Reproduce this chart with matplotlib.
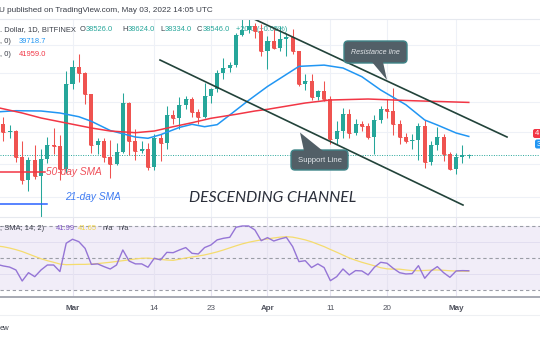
import matplotlib
matplotlib.use('Agg')
import matplotlib.pyplot as plt
from matplotlib.patches import FancyBboxPatch, Polygon
from matplotlib.transforms import IdentityTransform

W, H = 540, 340

# day index: 0 = 1 Mar 2022, last bar = 3 May 2022
days = list(range(-12, 64))
opens = [43900, 40550, 40000, 40100, 38400, 37000, 38250, 37250, 38300, 39200, 39100, 37700,
         43200, 44400, 44000, 42500, 39150, 39400, 38400, 38000, 38750, 41950, 39450, 38800,
         38900, 37800, 39650, 39300, 41100, 40900, 41800, 42200, 41300, 41000, 42400, 42900,
         44000, 44350, 44550, 46800, 47150, 47450, 47100, 45550, 46300, 45800, 46450, 46650,
         45550, 43200, 43450, 42300, 42750, 42200, 39550, 40100, 41150, 39950, 40550, 40400,
         39700, 40800, 41500, 41350, 40500, 39700, 39450, 39470, 40400, 38100, 39200, 39700,
         38600, 37700, 38450, 38526]
highs = [44150, 40950, 40450, 40150, 39450, 38400, 39200, 38900, 39700, 40250, 39800, 44150,
         44950, 45400, 44100, 42500, 39600, 39650, 39500, 39300, 42600, 42000, 40200, 39400,
         39300, 39900, 39850, 41700, 41450, 42300, 42400, 42300, 41500, 43300, 42950, 44200,
         45100, 44800, 46900, 48200, 48100, 47700, 47600, 46700, 47200, 47450, 46900, 47200,
         45550, 43900, 43950, 42800, 43400, 42400, 40700, 41550, 41500, 40850, 40700, 40600,
         41100, 41700, 42200, 42950, 40800, 39950, 39900, 40600, 40800, 39400, 40350, 39900,
         38750, 38650, 39150, 38624]
lows = [40100, 39450, 39650, 38100, 36800, 36350, 37100, 34350, 38050, 38600, 37050, 37450,
        42850, 43350, 41850, 38650, 38600, 38100, 37150, 37900, 38650, 38550, 38250, 38700,
        37600, 37600, 38150, 38950, 40550, 40200, 41500, 40950, 40550, 40900, 41950, 42650,
        43600, 44100, 44450, 46700, 46950, 46550, 45250, 44250, 45700, 45550, 45200, 45400,
        43100, 42800, 42150, 42150, 42050, 39250, 39250, 39600, 39600, 39800, 40050, 39550,
        38600, 40600, 40900, 39800, 39250, 39300, 38950, 38250, 37750, 37900, 38850, 38200,
        37600, 37400, 38050, 38334]
closes = [40550, 40000, 40100, 38400, 37000, 38250, 37250, 38300, 39200, 39100, 37700, 43200,
          44400, 44000, 42500, 39150, 39400, 38400, 38000, 38750, 41950, 39450, 38800, 38900,
          37800, 39650, 39300, 41100, 40900, 41800, 42200, 41300, 41000, 42400, 42900, 44000,
          44350, 44550, 46800, 47150, 47450, 47100, 45550, 46300, 45800, 46450, 46650, 45550,
          43200, 43450, 42300, 42750, 42200, 39550, 40100, 41150, 39950, 40550, 40400, 39700,
          40800, 41500, 41350, 40500, 39700, 39450, 39470, 40400, 38100, 39200, 39700, 38600,
          37700, 38450, 38526, 38546]

sma21_days = [-12, -9, -5, -2, 1, 3, 6, 10, 12, 14, 17, 19, 21, 23, 25, 28, 31, 36, 40, 43,
              46, 49, 53, 56, 58, 61, 63]
sma21_vals = [41320, 41401, 41381, 41248, 41002, 40700, 40100, 39680, 39600, 39830, 40300,
              40503, 40346, 40480, 41115, 42100, 43050, 44470, 44560, 44352, 43735, 42806,
              41800, 40784, 40457, 39938, 39718.7]
sma50_days = [-12, -8, -5, -1, 3, 6, 10, 13, 16, 19, 22, 26, 29, 31, 37, 41, 47, 54, 63]
sma50_vals = [41620, 41248, 40917, 40588, 40262, 40067, 39958, 40067, 40346, 40607, 40897,
              41161, 41381, 41494, 41918, 42122, 42189, 42074, 41959.0]

rsi = [46.0, 45.0, 44.3, 42.5, 35.6, 40.8, 38.3, 42.5, 45.6, 45.6, 41.5, 59.2,
       61.7, 60.2, 56.0, 46.0, 46.3, 44.6, 43.1, 45.6, 55.0, 48.1, 46.3, 46.3,
       44.2, 49.8, 48.8, 53.5, 53.3, 55.0, 56.5, 52.9, 52.5, 56.5, 58.1, 61.3,
       62.3, 62.9, 69.2, 70.0, 70.0, 67.5, 60.8, 62.7, 60.6, 61.9, 62.9, 57.1,
       47.7, 48.3, 44.0, 46.3, 44.0, 35.8, 38.3, 43.1, 39.4, 42.1, 41.9, 39.4,
       44.2, 47.3, 46.7, 43.5, 40.8, 40.0, 40.2, 45.2, 37.3, 41.9, 44.6, 40.8,
       37.9, 41.9, 42.1, 41.99]
rsi_ma = [57.5, 57.0, 56.2, 55.2, 54.0, 52.5, 51.0, 49.5, 48.3, 47.3, 46.2, 45.8,
          45.9, 46.0, 46.0, 46.2, 46.5, 46.9, 47.3, 47.8, 48.3, 48.8, 49.4, 49.8,
          49.9, 49.5, 49.1, 48.7, 48.5, 49.2, 50.0, 50.6, 51.2, 51.9, 52.8, 53.8,
          55.0, 56.3, 57.6, 58.8, 59.8, 60.6, 61.3, 61.9, 62.5, 63.0, 63.3, 63.0,
          62.2, 61.3, 60.1, 58.6, 57.1, 55.3, 53.6, 51.8, 50.0, 48.6, 47.3, 46.2,
          45.1, 43.9, 43.2, 43.0, 43.0, 42.5, 42.1, 42.0, 42.2, 42.4, 42.5, 42.3,
          42.0, 41.8, 41.7, 41.65]

tick_days = [0, 13, 22, 31, 41, 50, 61]
tick_labels = ['Mar', '14', '23', 'Apr', '11', '20', 'May']
month_ticks = {'Mar', 'Apr', 'May'}

# channel drawn through two anchor points each
resist_days, resist_px = [28.86, 69.08], [48000, 39682]
support_days, support_px = [13.91, 62.08], [44929, 35559]

UP, DOWN = '#26a69a', '#ef5350'
UI_FONT = ['Liberation Sans', 'DejaVu Sans']
GREY = '#3a3e48'

fig = plt.figure(figsize=(W / 100, H / 100), dpi=100)
fig.patch.set_facecolor('white')

x_lo, x_hi = -72.5 / 6.29, (540 - 72.5) / 6.29

ax = fig.add_axes([0, (H - 216.5) / H, 1, (216.5 - 19) / H])
ax_rsi = fig.add_axes([0, (H - 297) / H, 1, 80 / H])

# ---- price pane ----
ax.set_yscale('log')
ax.set_xlim(x_lo, x_hi)
ax.set_ylim(34907, 48000)
ax.set_xticks([])
ax.set_yticks([])
ax.minorticks_off()
for s in ax.spines.values():
    s.set_visible(False)

for lvl in [36000, 38000, 40000, 42000, 44000, 46000]:
    ax.axhline(lvl, color='#eef1f7', lw=0.8, zorder=0)
for d in tick_days:
    ax.axvline(d, color='#eef1f7', lw=0.8, zorder=0)

colors = [UP if c >= o else DOWN for o, c in zip(opens, closes)]
bottoms = [min(o, c) for o, c in zip(opens, closes)]
heights = [abs(c - o) for o, c in zip(opens, closes)]
ax.vlines(days, lows, highs, colors=colors, lw=0.75, zorder=3)
ax.bar(days, heights, bottom=bottoms, width=0.64, color=colors, linewidth=0, zorder=3)
ax.hlines(closes, [d - 0.32 for d in days], [d + 0.32 for d in days], colors=colors, lw=0.7, zorder=3)

ax.plot(sma21_days, sma21_vals, color='#2196f3', lw=1.1, zorder=4)
ax.plot(sma50_days, sma50_vals, color='#f23645', lw=1.1, zorder=4)

ax.axhline(closes[-1], color=UP, lw=0.7, ls=(0, (1, 1.5)), zorder=2)

ax.plot(resist_days, resist_px, color='#22433a', lw=1.2, zorder=5)
ax.plot(support_days, support_px, color='#22433a', lw=1.2, zorder=5)

# SMA marker segments at the left edge
ax.plot([x_lo, -4.45], [37503, 37503], color='#f23645', lw=1.1, zorder=5)
ax.plot([x_lo, -4.05], [35646, 35646], color='#2962ff', lw=1.1, zorder=5)


def ptext(x, y, s, target=None, **kw):
    """Text placed by pixel position measured from the top-left corner."""
    target = target or fig
    kw.setdefault('va', 'center')
    kw.setdefault('ha', 'left')
    if target is fig:
        return fig.text(x / W, 1 - y / H, s, **kw)
    return target.text(x / W, 1 - y / H, s, transform=fig.transFigure, clip_on=False, **kw)


ptext(273, 198, 'DESCENDING CHANNEL', target=ax, ha='center', fontsize=11.3, style='italic',
      color='#2a2e39', family=['Liberation Sans Narrow', 'Lato'], zorder=6)
ptext(46.5, 172, '50-day SMA', target=ax, fontsize=7.3, style='italic', color='#f0505a',
      family=UI_FONT, zorder=6)
ptext(65, 197, '21-day SMA', target=ax, fontsize=7.3, style='italic', color='#3f7cf2',
      family=UI_FONT, zorder=6)


def callout(x0, y0, x1, y1, tail, label, size, italic):
    box = FancyBboxPatch((x0, H - y1), x1 - x0, y1 - y0, boxstyle='round,pad=0,rounding_size=4',
                         transform=IdentityTransform(), facecolor='#525f67', edgecolor='#3f8589',
                         lw=1.0, zorder=7)
    ax.add_patch(box)
    tri = Polygon([(px, H - py) for px, py in tail], closed=True, transform=IdentityTransform(),
                  facecolor='#525f67', edgecolor='none', zorder=7)
    ax.add_patch(tri)
    ptext((x0 + x1) / 2, (y0 + y1) / 2, label, target=ax, ha='center', fontsize=size,
          style='italic' if italic else 'normal', color='#e3e6ea', family=UI_FONT, zorder=8)


callout(344, 41, 407, 63, [(372, 62), (383, 62), (387, 80)], 'Resistance line', 5.1, True)
callout(291, 150, 348, 170, [(300, 132.5), (304, 151), (323, 151)], 'Support Line', 5.6, False)

# legend rows
ptext(0, 29.5, '. Dollar, 1D, BITFINEX', target=ax, fontsize=5.4, color=GREY, family=UI_FONT, zorder=1)
for x, k, v in [(80, 'O', opens[-1]), (122, 'H', highs[-1]), (160, 'L', lows[-1]), (197, 'C', closes[-1])]:
    ptext(x, 29.5, k, target=ax, fontsize=5.4, color=GREY, family=UI_FONT, zorder=1)
    ptext(x + (5.8 if k in 'OC' else 5.4 if k == 'H' else 4.3), 29.5, f'{v:.1f}', target=ax,
          fontsize=5.4, color=UP, family=UI_FONT, zorder=1)
chg = closes[-1] - opens[-1]
ptext(236, 29.5, f'+{chg:.1f} (+{chg / opens[-1] * 100:.2f}%)', target=ax, fontsize=5.4,
      color=UP, family=UI_FONT, zorder=1)
ptext(0, 41.5, ', 0)', target=ax, fontsize=5.4, color=GREY, family=UI_FONT, zorder=1)
ptext(19, 41.5, f'{sma21_vals[-1]:.1f}', target=ax, fontsize=5.4, color='#2196f3', family=UI_FONT, zorder=1)
ptext(0, 54, ', 0)', target=ax, fontsize=5.4, color=GREY, family=UI_FONT, zorder=1)
ptext(19, 54, f'{sma50_vals[-1]:.1f}', target=ax, fontsize=5.4, color='#f23645', family=UI_FONT, zorder=1)

# price-scale tags peeking in at the right edge (only the leading digit fits)
for x0, y0, y1, fc, val in [(533, 129, 138, '#f23645', sma50_vals[-1]),
                            (535, 139.5, 148.5, '#2196f3', sma21_vals[-1])]:
    tag = FancyBboxPatch((x0, H - y1), 12, y1 - y0, boxstyle='round,pad=0,rounding_size=2',
                         transform=IdentityTransform(), facecolor=fc, edgecolor='none', zorder=9)
    ax.add_patch(tag)
    ptext(x0 + 1.6, (y0 + y1) / 2, f'{val:.0f}'[0], target=ax, fontsize=5.6, color='white',
          family=UI_FONT, zorder=10)

# ---- RSI pane ----
ax_rsi.set_xlim(x_lo, x_hi)
ax_rsi.set_ylim(25.6, 75.6)
ax_rsi.set_yticks([])
for name, s in ax_rsi.spines.items():
    s.set_visible(name == 'bottom')
ax_rsi.spines['bottom'].set_color('#a7aab3')
ax_rsi.spines['bottom'].set_linewidth(1.4)

ax_rsi.axhspan(30, 70, color='#7e57c2', alpha=0.1, lw=0, zorder=0)
for lvl in [60, 40]:
    ax_rsi.axhline(lvl, color='#e2def0', lw=0.7, zorder=1)
for d in tick_days:
    ax_rsi.axvline(d, color='#e6e3f1', lw=0.8, zorder=1)
for lvl in [70, 50, 30]:
    ax_rsi.axhline(lvl, color='#9a9da6', lw=0.8, ls=(0, (3, 2.5)), zorder=2)

ax_rsi.plot(days, rsi_ma, color='#f5dc6e', lw=0.9, zorder=3)
ax_rsi.plot(days, rsi, color='#9575d6', lw=1.0, zorder=4)

ax_rsi.set_xticks(tick_days)
ax_rsi.set_xticklabels(tick_labels)
ax_rsi.tick_params(axis='x', length=0, pad=5.6, labelsize=5.8, labelcolor='#50535e')
for lab in ax_rsi.get_xticklabels():
    lab.set_family(UI_FONT)
    if lab.get_text() in month_ticks:
        lab.set_fontweight('bold')

ptext(0, 228.5, '; SMA; 14; 2)', fontsize=5.4, color=GREY, family=UI_FONT)
ptext(56, 228.5, f'{rsi[-1]:.2f}', fontsize=5.4, color='#7e57c2', family=UI_FONT)
ptext(78, 228.5, f'{rsi_ma[-1]:.2f}', fontsize=5.4, color='#f2d64b', family=UI_FONT)
ptext(103, 228.5, 'n/a', fontsize=5.4, color=GREY, family=UI_FONT)
ptext(119, 228.5, 'n/a', fontsize=5.4, color=GREY, family=UI_FONT)

# ---- frame lines and page text ----
for y, c in [(18.5, '#e6e9ef'), (216.8, '#e6e9ef'), (315, '#eef0f3')]:
    fig.add_artist(plt.Line2D([0, 1], [1 - y / H, 1 - y / H], color=c, lw=0.8, transform=fig.transFigure))

ptext(-1, 10, 'U published on TradingView.com, May 03, 2022 14:05 UTC', fontsize=5.9,
      color=GREY, family=UI_FONT)
ptext(0, 328, 'ew', fontsize=5.4, color=GREY, family=UI_FONT)

fig.savefig('out.png', dpi=100, facecolor='white')
